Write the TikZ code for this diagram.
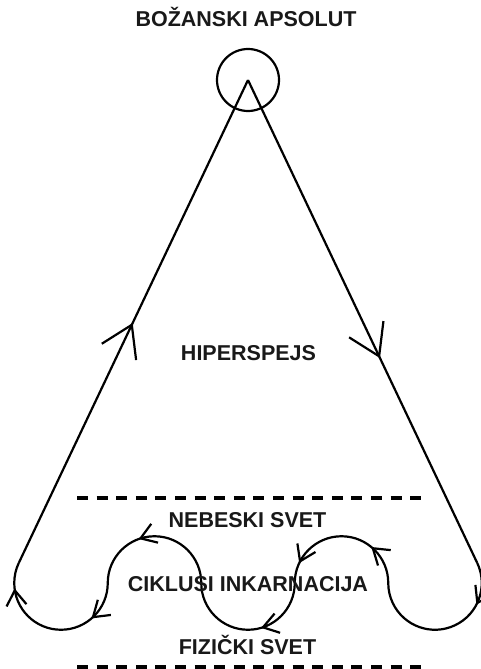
\documentclass[tikz,border=0pt]{standalone}
\usepackage{fontspec}
\setmainfont{Liberation Sans}
\usetikzlibrary{arrows.meta,decorations.markings}

\tikzset{
  tok/.style={line width=2.2pt},
  veliki/.style={postaction={decorate,decoration={markings,
     mark=at position #1 with {\arrow[line width=2.2pt]{Straight Barb[length=30pt,width=38pt]}}}}},
  mali/.style={postaction={decorate,decoration={markings,
     mark=at position #1 with {\arrow[line width=2.2pt]{Straight Barb[length=15pt,width=20pt]}}}}},
  natpis/.style={font=\bfseries\fontsize{21.5pt}{25pt}\selectfont,anchor=base,inner sep=0pt,text=black!90},
  granica/.style={line width=3.2pt,dash pattern=on 11pt off 8.6pt}
}

\begin{document}
\begin{tikzpicture}[x=1pt,y=1pt]
\useasboundingbox (0,0) rectangle (480,-669);
\coordinate (A) at (248,-80);
\coordinate (tR) at (477.22,-562.95);
\coordinate (p1) at (388.25,-583);
\coordinate (p2) at (294.75,-583);
\coordinate (p3) at (201.25,-583);
\coordinate (p4) at (107.75,-583);
\coordinate (tL) at (18.78,-562.95);
\coordinate (g1) at (77,-498);
\coordinate (g2) at (421,-498);
\coordinate (d1) at (77,-667);
\coordinate (d2) at (421,-667);
% apsolut na vrhu
\draw[tok] (A) circle[radius=31];
\draw[tok,veliki=0.576] (A)--(tR);
\draw[tok,veliki=0.497] (tL)--(A);
% ciklusi
\draw[tok,mali=0.258] (tR) arc[start angle=25.4,end angle=-180,radius=46.75];
\draw[tok,mali=0.28,mali=0.86] (p1) arc[start angle=0,end angle=180,radius=46.75];
\draw[tok,mali=0.41] (p2) arc[start angle=0,end angle=-180,radius=46.75];
\draw[tok,mali=0.61] (p3) arc[start angle=0,end angle=180,radius=46.75];
\draw[tok,mali=0.24,mali=0.844] (p4) arc[start angle=0,end angle=-205.4,radius=46.75];
\draw[granica] (g1)--(g2);
\draw[granica] (d1)--(d2);
\node[natpis] (apsolut) at (246,-27) {BOŽANSKI APSOLUT};
\node[natpis] (hiper) at (248.5,-360) {HIPERSPEJS};
\node[natpis] (nebo) at (247.5,-527) {NEBESKI SVET};
\node[natpis] (ciklusi) at (248,-591) {CIKLUSI INKARNACIJA};
\node[natpis] (fizicki) at (247.5,-654) {FIZIČKI SVET};
\end{tikzpicture}
\end{document}
